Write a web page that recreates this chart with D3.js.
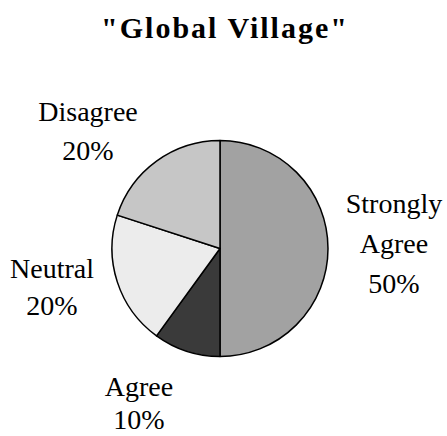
<!DOCTYPE html>
<html>
<head>
<meta charset="utf-8">
<script src="https://cdn.jsdelivr.net/npm/d3@7"></script>
<style>
  html, body { margin: 0; padding: 0; background: #fff; }
  svg { display: block; }
  text { font-family: "Liberation Serif", "DejaVu Serif", "Times New Roman", Times, serif; }
</style>
</head>
<body>
<svg id="chart" width="447" height="436"></svg>
<script>
const title = "\"Global Village\"";
const categories = ["Strongly Agree", "Agree", "Neutral", "Disagree"];
const values = [50, 10, 20, 20];
const labelLines = [["Strongly", "Agree", "50%"], ["Agree", "10%"], ["Neutral", "20%"], ["Disagree", "20%"]];
const fills = ["#a2a2a2", "#3a3a3a", "#ececec", "#c6c6c6"];

const svg = d3.select("#chart");
const cx = 220, cy = 248.5, r = 108;

svg.append("text")
  .attr("x", 225).attr("y", 38)
  .attr("text-anchor", "middle")
  .attr("font-weight", "bold")
  .attr("font-size", 30)
  .attr("letter-spacing", 2)
  .text(title);

const pie = d3.pie().sort(null).value(d => d)(values);
const arc = d3.arc().innerRadius(0).outerRadius(r);

const g = svg.append("g").attr("transform", `translate(${cx},${cy})`);
g.selectAll("path").data(pie).enter().append("path")
  .attr("d", arc)
  .attr("fill", (d, i) => fills[i])
  .attr("stroke", "#000")
  .attr("stroke-width", 1.5)
  .attr("stroke-linejoin", "round");

// label anchor positions (centre x, first baseline y)
const labelPos = [[394, 213], [139, 396], [52, 278], [88, 121]];
const lineH = [40, 33, 37, 39];
labelLines.forEach((lines, i) => {
  const t = svg.append("text")
    .attr("text-anchor", "middle")
    .attr("font-size", 28)
    .attr("fill", "#000");
  lines.forEach((ln, j) => {
    t.append("tspan")
      .attr("x", labelPos[i][0])
      .attr("y", labelPos[i][1] + j * lineH[i])
      .text(ln);
  });
});
</script>
</body>
</html>
